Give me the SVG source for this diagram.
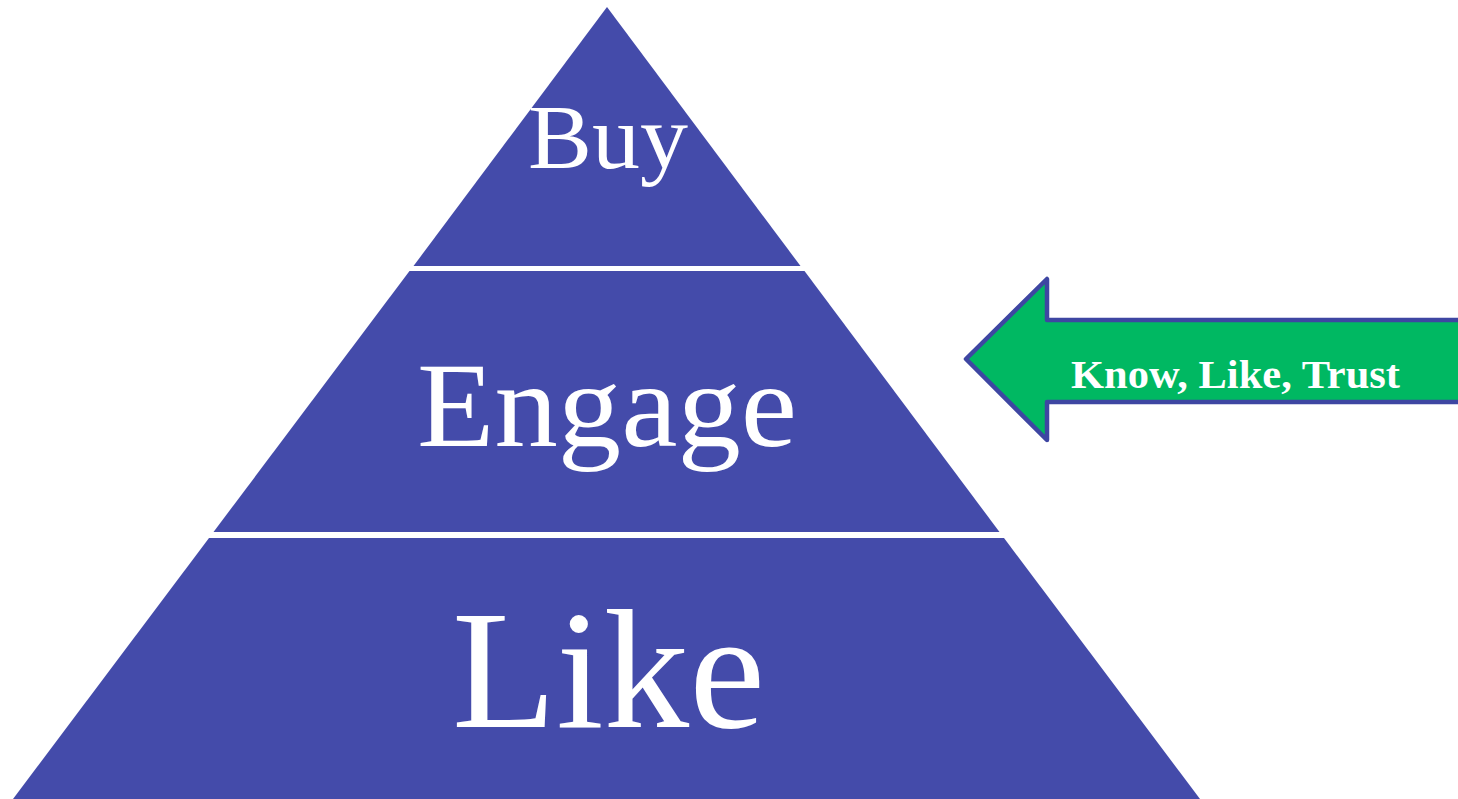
<svg xmlns="http://www.w3.org/2000/svg" width="1458" height="799" viewBox="0 0 1458 799">
  <style>
    .tier { fill: #444BAA; }
    .label { fill: #FFFFFF; font-family: "Liberation Serif", "Times New Roman", serif; text-anchor: middle; }
    .arrow { fill: #00B862; stroke: #3E46A2; stroke-width: 4.5; stroke-linejoin: round; }
    .arrow-label { fill: #FFFFFF; font-family: "Liberation Serif", "Times New Roman", serif; font-weight: bold; font-size: 41px; text-anchor: middle; }
  </style>
  <rect width="1458" height="799" fill="#FFFFFF"/>

  <!-- Top tier -->
  <g id="tier-buy">
    <polygon class="tier" points="607,7 800.5,266 413.5,266"/>
    <text class="label" x="608" y="168" font-size="92" textLength="160" lengthAdjust="spacingAndGlyphs">Buy</text>
  </g>

  <!-- Middle tier -->
  <g id="tier-engage">
    <polygon class="tier" points="409.5,271 804.5,271 999.5,532 213.5,532"/>
    <text class="label" x="607" y="446" font-size="121" textLength="380" lengthAdjust="spacingAndGlyphs">Engage</text>
  </g>

  <!-- Bottom tier -->
  <g id="tier-like">
    <polygon class="tier" points="209,538 1004,538 1200,799 13,799"/>
    <text class="label" x="608.5" y="727" font-size="169" textLength="313" lengthAdjust="spacingAndGlyphs">Like</text>
  </g>

  <!-- Arrow pointing into the pyramid -->
  <g id="connectors">
    <g id="arrow-know-like-trust">
      <polygon class="arrow" points="966,359 1047,279 1047,320 1462,320 1462,402 1047,402 1047,440"/>
      <text class="arrow-label" x="1235.5" y="388" textLength="329" lengthAdjust="spacingAndGlyphs">Know, Like, Trust</text>
    </g>
  </g>
</svg>
